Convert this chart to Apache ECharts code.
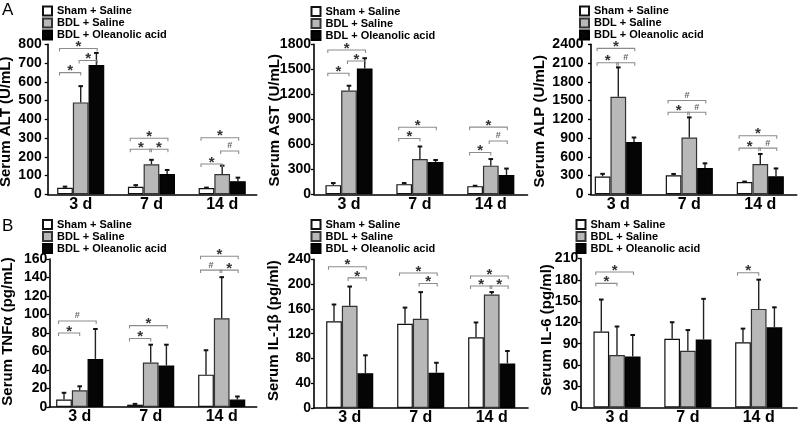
<!DOCTYPE html>
<html><head><meta charset="utf-8">
<script src="https://cdn.jsdelivr.net/npm/echarts@6/dist/echarts.min.js"></script>
<style>html,body{margin:0;padding:0;background:#fff}#c{width:800px;height:426px}</style>
</head><body><div id="c"></div>
<script>
// ---------- data ----------
const categories = ['3 d', '7 d', '14 d'];
const groups = ['Sham + Saline', 'BDL + Saline', 'BDL + Oleanolic acid'];

// ALT (U/mL)
const altSham = [35, 40, 33];
const altBdl = [490, 160, 108];
const altOa = [690, 108, 70];
const altShamSd = [9, 12, 6];
const altBdlSd = [90, 27, 48];
const altOaSd = [67, 25, 22];
const altTicks = [0, 800, 100];
// [category, fromGroup, toGroup, height, symbol]
const altMarks = [[0,0,2,778,'*'],[0,1,2,714,'*'],[0,0,1,649,'*'],[1,0,2,299,'*'],[1,0,1,240,'*'],[1,1,2,240,'*'],[2,0,2,302,'*'],[2,1,2,231,'#'],[2,0,1,162,'*']];

// AST (U/mL)
const astSham = [110, 122, 98];
const astBdl = [1245, 423, 344];
const astOa = [1510, 388, 233];
const astShamSd = [32, 20, 12];
const astBdlSd = [65, 158, 86];
const astOaSd = [130, 31, 83];
const astTicks = [0, 1800, 300];
const astMarks = [[0,0,2,1732,'*'],[0,1,2,1600,'*'],[0,0,1,1452,'*'],[1,0,2,805,'*'],[1,0,1,670,'*'],[2,0,2,806,'*'],[2,1,2,640,'#'],[2,0,1,502,'*']];

// ALP (U/mL)
const alpSham = [285, 305, 198];
const alpBdl = [1560, 910, 485];
const alpOa = [835, 420, 288];
const alpShamSd = [52, 30, 15];
const alpBdlSd = [480, 330, 170];
const alpOaSd = [83, 85, 135];
const alpTicks = [0, 2400, 300];
const alpMarks = [[0,0,2,2335,'*'],[0,0,1,2105,'*'],[0,1,2,2105,'#'],[1,0,2,1500,'#'],[1,0,1,1312,'*'],[1,1,2,1312,'#'],[2,0,2,937,'*'],[2,0,1,739,'*'],[2,1,2,739,'#']];

// TNF-alpha (pg/mL)
const tnfSham = [8, 2.5, 35];
const tnfBdl = [18, 48, 96];
const tnfOa = [52, 45, 8];
const tnfShamSd = [8, 1.5, 27];
const tnfBdlSd = [5, 20, 45];
const tnfOaSd = [33, 23, 4];
const tnfTicks = [0, 160, 20];
const tnfMarks = [[0,0,2,93,'#'],[0,0,1,80,'*'],[1,0,2,88,'*'],[1,0,1,74,'*'],[2,0,2,163,'*'],[2,0,1,148,'#'],[2,1,2,148,'*']];

// IL-1beta (pg/ml)
const il1Sham = [140, 136, 114];
const il1Bdl = [165, 144, 183];
const il1Oa = [56, 57, 72];
const il1ShamSd = [28, 27, 25];
const il1BdlSd = [32, 44, 5];
const il1OaSd = [30, 17, 21];
const il1Ticks = [0, 240, 40];
const il1Marks = [[0,0,2,228,'*'],[0,1,2,210,'*'],[1,0,2,218,'*'],[1,1,2,201,'*'],[2,0,2,213,'*'],[2,0,1,197,'*'],[2,1,2,197,'*']];

// IL-6 (pg/ml)
const il6Sham = [107, 97, 92];
const il6Bdl = [74, 80, 139];
const il6Oa = [72, 96, 113];
const il6ShamSd = [46, 24, 20];
const il6BdlSd = [41, 30, 42];
const il6OaSd = [31, 58, 29];
const il6Ticks = [0, 210, 30];
const il6Marks = [[0,0,2,191,'*'],[0,0,1,175,'*'],[2,0,1,190,'*']];

// ---------- layout ----------
const FONT = '"Liberation Sans", Arial, sans-serif';
const BW = 15.7;
const panels = [
  {name:'Serum ALT (U/mL)', means:[altSham,altBdl,altOa], sds:[altShamSd,altBdlSd,altOaSd], ticks:altTicks, marks:altMarks,
   axisX:47.7, axisEnd:256.7, top:44.3, bottom:194.3, c0:80.7, sp:70.75, lx:42, ly:5.5, gap:34.3, shift:2.5, lm:6},
  {name:'Serum AST (U/mL)', means:[astSham,astBdl,astOa], sds:[astShamSd,astBdlSd,astOaSd], ticks:astTicks, marks:astMarks,
   axisX:314, axisEnd:527.5, top:44.3, bottom:194.3, c0:349, sp:70.9, lx:310.5, ly:6, gap:32, shift:1, lm:3},
  {name:'Serum ALP (U/mL)', means:[alpSham,alpBdl,alpOa], sds:[alpShamSd,alpBdlSd,alpOaSd], ticks:alpTicks, marks:alpMarks,
   axisX:591, axisEnd:796.7, top:44.3, bottom:194.3, c0:618.3, sp:71, lx:579, ly:5.5, gap:43.3, shift:2, lm:7.5},
  {name:'Serum TNFα (pg/mL)', means:[tnfSham,tnfBdl,tnfOa], sds:[tnfShamSd,tnfBdlSd,tnfOaSd], ticks:tnfTicks, marks:tnfMarks,
   axisX:49.3, axisEnd:256.7, top:259, bottom:407, c0:79.7, sp:71, lx:42, ly:219, gap:33.6, shift:-1.5, lm:2},
  {name:'Serum IL-1β (pg/ml)', means:[il1Sham,il1Bdl,il1Oa], sds:[il1ShamSd,il1BdlSd,il1OaSd], ticks:il1Ticks, marks:il1Marks,
   axisX:314, axisEnd:528, top:259.3, bottom:408, c0:349.7, sp:71, lx:310.5, ly:219, gap:32.6, shift:-3, lm:3},
  {name:'Serum IL-6 (pg/ml)', means:[il6Sham,il6Bdl,il6Oa], sds:[il6ShamSd,il6BdlSd,il6OaSd], ticks:il6Ticks, marks:il6Marks,
   axisX:580.7, axisEnd:797, top:258.5, bottom:407.5, c0:617, sp:70.85, lx:575.5, ly:219, gap:26.5, shift:-3, lm:2.5}
];

const barStyles = [
  {color:'#ffffff', borderColor:'#111', borderWidth:1.2},
  {color:'#b8b8b8', borderColor:'#333', borderWidth:1.2},
  {color:'#050505', borderColor:'#000', borderWidth:1.2}
];

const option = {
  animation: false,
  backgroundColor: '#fff',
  title: [
    {text:'A', left:2, top:2, padding:0, textStyle:{fontSize:17, fontWeight:'normal', color:'#000', fontFamily:FONT}},
    {text:'B', left:2, top:218, padding:0, textStyle:{fontSize:17, fontWeight:'normal', color:'#000', fontFamily:FONT}}
  ],
  legend: [], grid: [], xAxis: [], yAxis: [], series: []
};

panels.forEach((p, i) => {
  const xmin = -(p.c0 - p.axisX) / p.sp;
  const xmax = xmin + (p.axisEnd - p.axisX) / p.sp;
  option.grid.push({left:p.axisX, top:p.top, width:p.axisEnd - p.axisX, height:p.bottom - p.top,
    containLabel:false, outerBoundsMode:'none'});
  option.xAxis.push({type:'value', gridIndex:i, min:xmin, max:xmax,
    axisLine:{show:true, onZero:false, lineStyle:{color:'#000', width:1.6}},
    axisTick:{show:false}, splitLine:{show:false},
    axisLabel:{customValues:[0,1,2], formatter:(v) => categories[Math.round(v)],
      fontSize:16, fontWeight:'bold', color:'#000', margin:2, fontFamily:FONT}});
  const s = p.shift;
  option.yAxis.push({type:'value', gridIndex:i, min:p.ticks[0], max:p.ticks[1], interval:p.ticks[2],
    name:p.name, nameLocation:'middle', nameGap:p.gap, nameMoveOverlap:false,
    nameTextStyle:{fontSize:15, fontWeight:'bold', color:'#000', fontFamily:FONT,
      padding: s >= 0 ? [0, 2 * s, 0, 0] : [0, 0, 0, -2 * s]},
    axisLine:{show:true, onZero:false, lineStyle:{color:'#000', width:1.6}},
    axisTick:{show:true, length:3, lineStyle:{color:'#000', width:1.3}},
    axisLabel:{formatter:(v) => String(v), fontSize:14, fontWeight:'bold', color:'#000', margin:p.lm, fontFamily:FONT},
    splitLine:{show:false}});
  option.legend.push({orient:'vertical', left:p.lx, top:p.ly, itemWidth:9, itemHeight:9, itemGap:1,
    padding:0, icon:'rect', selectedMode:false, data:groups,
    textStyle:{fontSize:11, fontWeight:'bold', color:'#000', fontFamily:FONT}});

  groups.forEach((g, k) => {
    option.series.push({type:'bar', name:g, xAxisIndex:i, yAxisIndex:i, barWidth:BW, barGap:'0%',
      data:p.means[k].map((v, c) => [c, v]), itemStyle:barStyles[k], z:2});
  });

  const errData = [];
  groups.forEach((g, k) => p.means[k].forEach((v, c) => errData.push([c, k, v, v + p.sds[k][c]])));
  option.series.push({type:'custom', xAxisIndex:i, yAxisIndex:i, z:3, silent:true,
    encode:{x:0, y:3}, data:errData,
    renderItem:(params, api) => {
      const c = api.value(0), k = api.value(1);
      const a = api.coord([c, api.value(2)]);
      const b = api.coord([c, api.value(3)]);
      const x = a[0] + (k - 1) * BW;
      return {type:'group', children:[
        {type:'line', shape:{x1:x, y1:a[1], x2:x, y2:b[1]}, style:{stroke:'#222', lineWidth:1.4}},
        {type:'line', shape:{x1:x - 2.3, y1:b[1] + 0.6, x2:x + 2.3, y2:b[1] + 0.6}, style:{stroke:'#111', lineWidth:2}}
      ]};
    }});

  option.series.push({type:'custom', xAxisIndex:i, yAxisIndex:i, z:4, silent:true, clip:false,
    encode:{x:0, y:3}, data:p.marks.map(m => [m[0], m[1], m[2], m[3]]),
    renderItem:(params, api) => {
      const m = p.marks[params.dataIndex];
      const pt = api.coord([m[0], m[3]]);
      const a = m[1], b = m[2];
      const x1 = a === 0 ? pt[0] + (a - 1.5) * BW + 0.15 * BW : pt[0] + (a - 1) * BW - 0.1 * BW;
      const x2 = pt[0] + (b - 1) * BW + (b === 2 ? 0.05 * BW : 0);
      const y = pt[1];
      const star = m[4] === '*';
      return {type:'group', children:[
        {type:'polyline', shape:{points:[[x1, y + 3], [x1, y], [x2, y], [x2, y + 3]]},
          style:{stroke:'#8c8c8c', lineWidth:1.1, fill:null}},
        {type:'text', x:(x1 + x2) / 2, y: star ? y - 1.5 : y - 5,
          style:{text:m[4], fill: star ? '#333' : '#666',
            font: star ? 'bold 15px "Liberation Sans", Arial' : 'bold 9px "Liberation Sans", Arial',
            align:'center', verticalAlign:'middle'}}
      ]};
    }});
});

const chart = echarts.init(document.getElementById('c'), null, {renderer:'canvas'});
chart.setOption(option);
</script>
</body></html>
